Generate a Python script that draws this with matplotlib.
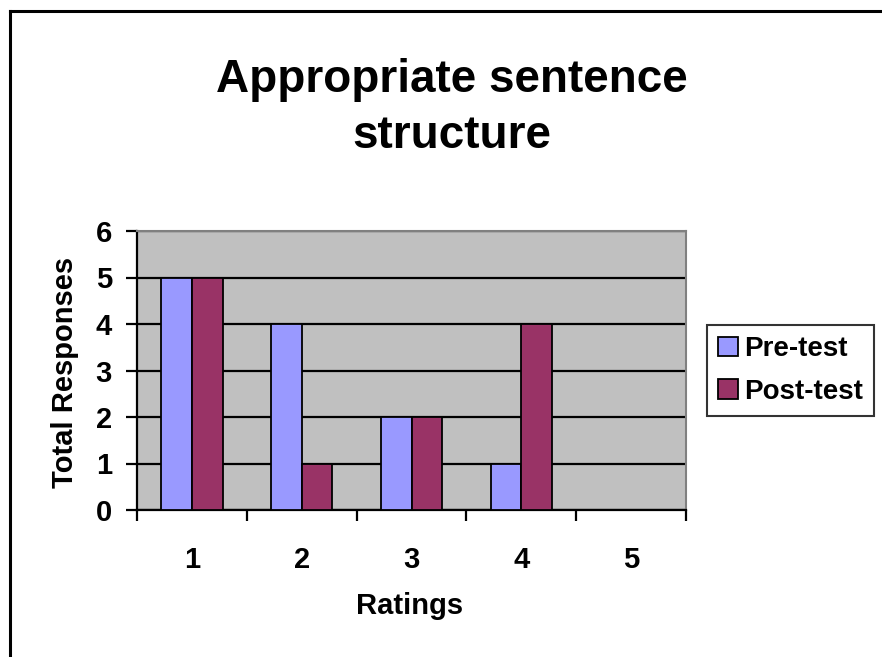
import matplotlib.pyplot as plt
from matplotlib.lines import Line2D
import numpy as np

plt.rcParams['font.family'] = ['Liberation Sans', 'DejaVu Sans']

# data
ratings = ['1', '2', '3', '4', '5']
pre_test = [5, 4, 2, 1, 0]
post_test = [5, 1, 2, 4, 0]

W, H = 882, 657
fig = plt.figure(figsize=(W / 100, H / 100), dpi=100)

# plot area in pixel coords
L, R, T, B = 137, 686, 231, 510
ax = fig.add_axes([L / W, 1 - B / H, (R - L) / W, (B - T) / H])
ax.set_facecolor('#C0C0C0')

x = np.arange(1, len(ratings) + 1)
bw = 0.28
ax.bar(x - bw / 2, pre_test, bw, color='#9999FF', edgecolor='black', linewidth=1.3, zorder=3, label='Pre-test')
ax.bar(x + bw / 2, post_test, bw, color='#993366', edgecolor='black', linewidth=1.3, zorder=3, label='Post-test')

ax.set_xlim(0.5, len(ratings) + 0.5)
ax.set_ylim(0, 6)
ax.set_yticks(range(0, 7))
ax.yaxis.grid(True, color='black', linewidth=1.6, zorder=1)
ax.set_axisbelow(True)

# category boundaries get the ticks, centres get the labels
ax.set_xticks(np.arange(0.5, len(ratings) + 1, 1.0))
ax.set_xticklabels([])
ax.set_xticks(x, minor=True)
ax.set_xticklabels(ratings, minor=True)
ax.tick_params(axis='x', which='major', direction='out', length=8, width=1.6, color='black')
ax.tick_params(axis='x', which='minor', length=0, pad=26, labelsize=21)
ax.tick_params(axis='y', direction='out', length=8, width=1.6, pad=10, labelsize=21)
for lab in ax.get_xticklabels(minor=True) + ax.get_yticklabels():
    lab.set_fontweight('bold')

for s in ['top', 'right']:
    ax.spines[s].set_color('#808080')
    ax.spines[s].set_linewidth(1.5)
for s in ['left', 'bottom']:
    ax.spines[s].set_color('black')
    ax.spines[s].set_linewidth(1.6)

# titles and axis labels
fig.text(452 / W, 1 - 92 / H, 'Appropriate sentence', ha='center', va='baseline', fontsize=33, fontweight='bold')
fig.text(452 / W, 1 - 148 / H, 'structure', ha='center', va='baseline', fontsize=33, fontweight='bold')
fig.text(65 / W, 1 - 372 / H, 'Total Responses', ha='center', va='center', rotation=90, fontsize=21, fontweight='bold')
fig.text(410 / W, 1 - 606 / H, 'Ratings', ha='center', va='center', fontsize=21, fontweight='bold')

leg = fig.legend(loc='upper left', bbox_to_anchor=(707 / W, 1 - 325 / H), fontsize=20, frameon=True,
                 fancybox=False, handlelength=0.7, handleheight=0.7, handletextpad=0.25,
                 borderpad=0.4, labelspacing=0.6, borderaxespad=0)
leg.get_frame().set_edgecolor('black')
leg.get_frame().set_linewidth(1.5)
for t in leg.get_texts():
    t.set_fontweight('bold')

# outer chart border (top and left edges visible)
fig.add_artist(Line2D([9.5 / W, 9.5 / W], [0, 1 - 11 / H], color='black', linewidth=2.2))
fig.add_artist(Line2D([9.5 / W, 1], [1 - 11 / H, 1 - 11 / H], color='black', linewidth=2.2))

fig.savefig('out.png', dpi=100)
